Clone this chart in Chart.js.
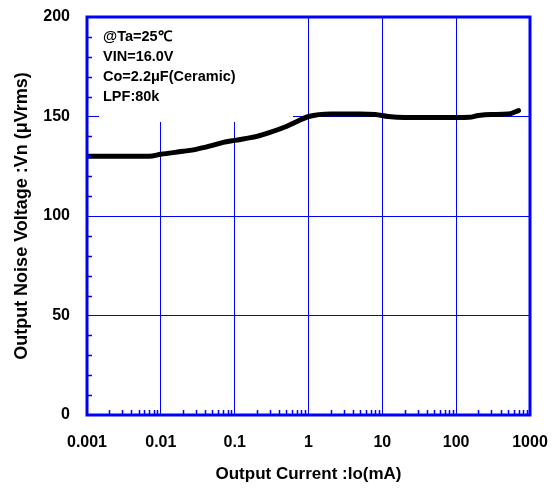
<!DOCTYPE html>
<html><head><meta charset="utf-8">
<script src="https://cdn.jsdelivr.net/npm/chart.js@4.4.1/dist/chart.umd.min.js"></script>
<style>html,body{margin:0;padding:0;background:#fff;}</style>
</head><body>
<canvas id="c" width="558" height="488" style="display:block;width:558px;height:488px"></canvas>
<script>
const currentMA = [0.001, 0.002, 0.004, 0.007, 0.01, 0.02, 0.03, 0.05, 0.07, 0.1, 0.2, 0.3, 0.5, 0.7, 1, 2, 5, 8, 12, 20, 50, 100, 150, 200, 300, 500, 700];
const noiseUV   = [130, 130, 130, 130, 131, 132.5, 133.5, 135.5, 137, 138, 140, 142, 145, 147.5, 150, 151.3, 151.3, 151, 150, 149.5, 149.5, 149.5, 149.6, 150.5, 151, 151.2, 153];
const xTickValues = [0.001, 0.01, 0.1, 1, 10, 100, 1000];
const xTickLabels = ['0.001', '0.01', '0.1', '1', '10', '100', '1000'];
const yTickValues = [0, 50, 100, 150, 200];
const yMinorStep = 10;
const annotationLines = ['@Ta=25\u2103', 'VIN=16.0V', 'Co=2.2\u03bcF(Ceramic)', 'LPF:80k'];

const BLUE = '#0000ff';
const FONT = '"Liberation Sans", Arial, sans-serif';

function zeroPad(s) { s.paddingTop = 0; s.paddingBottom = 0; s.paddingLeft = 0; s.paddingRight = 0; }

const decor = {
  id: 'decor',
  beforeDatasetsDraw(chart) {
    const { ctx, chartArea: a } = chart;
    ctx.save();
    ctx.fillStyle = '#fff';
    ctx.fillRect(a.left + 12, a.top + 1, 194, 104);
    ctx.fillStyle = '#000';
    ctx.font = 'bold 14.5px ' + FONT;
    ctx.textBaseline = 'middle';
    ctx.textAlign = 'left';
    annotationLines.forEach((t, i) => ctx.fillText(t, a.left + 16, a.top + 20 + i * 20));
    ctx.restore();
  },
  afterDatasetsDraw(chart) {
    const { ctx, chartArea: a, scales } = chart;
    const xs = scales.x, ys = scales.y;
    ctx.save();
    ctx.strokeStyle = BLUE;
    ctx.lineWidth = 1.5;
    ctx.beginPath();
    for (let d = -3; d < 3; d++) {
      for (let k = 2; k <= 9; k++) {
        const px = Math.round(xs.getPixelForValue(k * Math.pow(10, d))) + 0.5;
        ctx.moveTo(px, a.bottom);
        ctx.lineTo(px, a.bottom - 5);
      }
    }
    for (let v = yMinorStep; v < 200; v += yMinorStep) {
      if (v % 50 === 0) continue;
      const py = Math.round(ys.getPixelForValue(v)) + 0.5;
      ctx.moveTo(a.left, py);
      ctx.lineTo(a.left + 5, py);
    }
    ctx.stroke();
    ctx.lineWidth = 3;
    ctx.strokeRect(a.left, a.top, a.right - a.left, a.bottom - a.top);
    ctx.restore();
  }
};

new Chart(document.getElementById('c'), {
  type: 'line',
  data: {
    datasets: [{
      data: currentMA.map((x, i) => ({ x, y: noiseUV[i] })),
      borderColor: '#000',
      borderWidth: 5,
      pointRadius: 0,
      pointHoverRadius: 0,
      cubicInterpolationMode: 'monotone',
      borderCapStyle: 'round',
      borderJoinStyle: 'round',
      fill: false
    }]
  },
  options: {
    responsive: false,
    animation: false,
    devicePixelRatio: 1,
    layout: { autoPadding: false, padding: { top: 17, right: 28, left: 0, bottom: 0 } },
    plugins: { legend: { display: false }, tooltip: { enabled: false } },
    scales: {
      x: {
        type: 'logarithmic',
        min: 0.001, max: 1000,
        afterBuildTicks: s => { s.ticks = xTickValues.map(v => ({ value: v })); },
        afterFit: s => { s.height = 73; zeroPad(s); },
        ticks: {
          callback: (v) => { const i = xTickValues.findIndex(t => Math.abs(t - v) / t < 1e-6); return i >= 0 ? xTickLabels[i] : ''; },
          font: { family: FONT, size: 16, weight: 'bold' },
          color: '#000', padding: 18, maxRotation: 0, autoSkip: false,
          major: { enabled: false }
        },
        grid: { color: () => BLUE, lineWidth: 1, drawTicks: false },
        border: { display: false },
        title: {
          display: true, text: 'Output Current :Io(mA)', color: '#000',
          font: { family: FONT, size: 17, weight: 'bold' },
          padding: { top: 0, bottom: 3 }
        }
      },
      y: {
        type: 'linear',
        min: 0, max: 200,
        afterBuildTicks: s => { s.ticks = yTickValues.map(v => ({ value: v })); },
        afterFit: s => { s.width = 87; zeroPad(s); },
        ticks: {
          font: { family: FONT, size: 16, weight: 'bold' },
          color: '#000', padding: 17
        },
        grid: { color: () => BLUE, lineWidth: 1, drawTicks: false },
        border: { display: false },
        title: {
          display: true, text: 'Output Noise Voltage :Vn (\u03bcVrms)', color: '#000',
          font: { family: FONT, size: 18, weight: 'bold' },
          padding: { top: 11, bottom: 0 }
        }
      }
    }
  },
  plugins: [decor]
});
</script>
</body></html>
